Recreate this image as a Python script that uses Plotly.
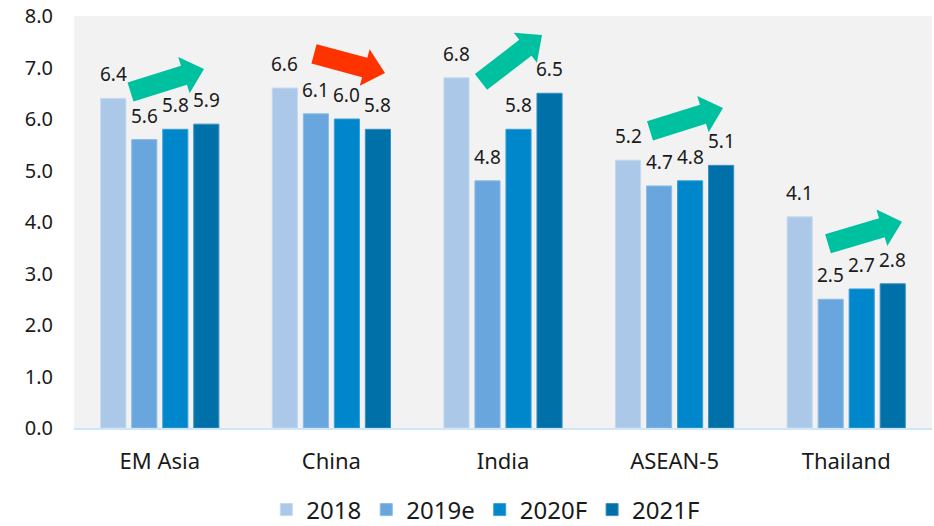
import math
import plotly.graph_objects as go

categories = ["EM Asia", "China", "India", "ASEAN-5", "Thailand"]
series_names = ["2018", "2019e", "2020F", "2021F"]
v2018 = [6.4, 6.6, 6.8, 5.2, 4.1]
v2019e = [5.6, 6.1, 4.8, 4.7, 2.5]
v2020f = [5.8, 6.0, 5.8, 4.8, 2.7]
v2021f = [5.9, 5.8, 6.5, 5.1, 2.8]
y_ticks = [0, 1, 2, 3, 4, 5, 6, 7, 8]

series_values = [v2018, v2019e, v2020f, v2021f]
colors = ["#abc8e8", "#6aa6de", "#0086cb", "#0070a8"]
edge_colors = ["#c4d9f0", "#8cbbe7", "#3aa0d8", "#3a8fc0"]

FONT = "Noto Sans"
W, H = 934, 526
ML, MR, MT, MB = 74, 2, 16, 97.5
PW = W - ML - MR
PH = H - MT - MB

fig = go.Figure()
for name, vals, col, ec in zip(series_names, series_values, colors, edge_colors):
    fig.add_trace(go.Bar(
        x=categories, y=vals, name=name,
        marker=dict(color=col, line=dict(color=ec, width=1)),
        hoverinfo="x+y+name",
    ))

# data labels
slot = 31
for i, vals in enumerate(series_values):
    for cat, v in zip(categories, vals):
        fig.add_annotation(
            x=cat, y=v, text=f"{v:.1f}", showarrow=False,
            xref="x", yref="y", yanchor="bottom",
            xshift=(i - 1.5) * slot, yshift=9,
            font=dict(family=FONT, size=19, color="#1a1a1a"),
        )

# decorative trend arrows (pixel geometry -> paper coords)
def to_paper(px, py):
    return (px - ML) / PW, (MT + PH - py) / PH

def arrow_path(tail, tip, shaft=20, head_w=38, head_l=21):
    tx, ty = tail
    hx, hy = tip
    dx, dy = hx - tx, hy - ty
    L = math.hypot(dx, dy)
    ux, uy = dx / L, dy / L
    nx, ny = -uy, ux
    bx, by = hx - ux * head_l, hy - uy * head_l
    pts = [
        (tx + nx * shaft / 2, ty + ny * shaft / 2),
        (bx + nx * shaft / 2, by + ny * shaft / 2),
        (bx + nx * head_w / 2, by + ny * head_w / 2),
        (hx, hy),
        (bx - nx * head_w / 2, by - ny * head_w / 2),
        (bx - nx * shaft / 2, by - ny * shaft / 2),
        (tx - nx * shaft / 2, ty - ny * shaft / 2),
    ]
    pp = [to_paper(x, y) for x, y in pts]
    return "M " + " L ".join(f"{x:.5f},{y:.5f}" for x, y in pp) + " Z"

arrows = [
    ((130.5, 92), (204, 69), "#00c19f"),
    ((314, 54), (385, 73), "#ff3300"),
    ((481, 82), (542, 35), "#00c19f"),
    ((650, 131), (723, 108), "#00c19f"),
    ((828, 244), (902, 222), "#00c19f"),
]
for tail, tip, col in arrows:
    fig.add_shape(type="path", path=arrow_path(tail, tip), xref="paper", yref="paper",
                  fillcolor=col, line=dict(width=0), layer="above")

fig.update_layout(
    width=W, height=H,
    margin=dict(l=ML, r=MR, t=MT, b=MB, autoexpand=False),
    paper_bgcolor="white", plot_bgcolor="#f2f2f2",
    font=dict(family=FONT, color="#1a1a1a"),
    barmode="group", bargap=0.277, bargroupgap=0.19,
    showlegend=True,
    legend=dict(orientation="h", x=0.48, xanchor="center",
                yref="container", y=(H - 510) / H, yanchor="middle",
                font=dict(family=FONT, size=24, color="#1a1a1a"),
                itemwidth=30, traceorder="normal", bgcolor="rgba(0,0,0,0)"),
    xaxis=dict(showgrid=False, showline=True, linecolor="#cfe6f6", linewidth=2,
               ticks="", tickfont=dict(family=FONT, size=22, color="#1a1a1a"),
               ticklabelstandoff=13, fixedrange=True),
    yaxis=dict(range=[0, 8], tickvals=y_ticks, tickformat=".1f", showgrid=False,
               zeroline=False, showline=False, ticks="",
               tickfont=dict(family=FONT, size=20, color="#1a1a1a"),
               ticklabelstandoff=20, fixedrange=True),
)

fig.write_html("out.html", config={"displayModeBar": False})
